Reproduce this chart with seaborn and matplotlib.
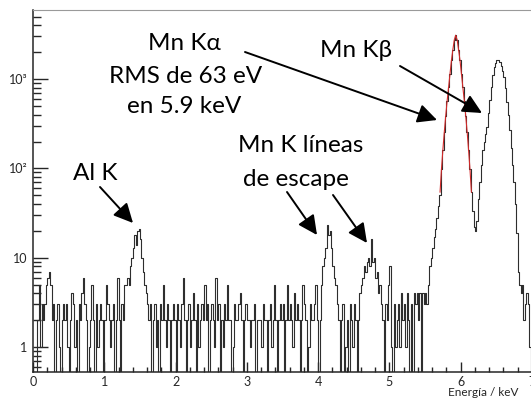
import numpy as np
import pandas as pd
import matplotlib
matplotlib.use('Agg')
import matplotlib.pyplot as plt
import seaborn as sns
from matplotlib.ticker import FixedLocator, MultipleLocator, LogLocator, NullFormatter

# spectrum: counts per 0.02 keV bin, segment by segment
bin_width = 0.02
counts_0_03 = [0, 0, 0, 2, 5, 1, 3, 2, 3, 5, 6, 7, 5, 2, 3]
counts_03_06 = [0, 2, 3, 1, 0, 2, 3, 2, 3, 1, 0, 2, 4, 3, 1]
counts_06_09 = [2, 0, 3, 2, 4, 6, 3, 2, 0, 1, 2, 5, 2, 0, 3]
counts_09_12 = [1, 2, 3, 2, 0, 2, 5, 3, 2, 1, 2, 3, 0, 2, 6]
counts_12_13 = [2, 0, 3, 2, 5]
counts_al_k = [5, 6, 5, 8, 10, 13, 18, 14, 20, 21, 16, 10, 7, 5, 4, 3, 2]
counts_164_2 = [3, 0, 2, 3, 1, 2, 0, 3, 2, 5, 2, 1, 3, 2, 0, 2, 3, 2]
counts_2_25 = [0, 3, 2, 1, 3, 6, 2, 0, 2, 3, 1, 2, 4, 2, 0, 3, 1, 2, 3, 2, 5, 2, 3, 0, 2]
counts_25_3 = [3, 2, 1, 6, 2, 3, 0, 2, 1, 3, 2, 5, 2, 2, 0, 1, 3, 2, 2, 3, 4, 2, 0, 2, 3]
counts_3_35 = [2, 2, 1, 2, 2, 3, 0, 2, 2, 2, 1, 3, 2, 2, 0, 2, 3, 1, 2, 5, 2, 0, 2, 3, 2]
counts_35_4 = [3, 0, 2, 5, 2, 3, 2, 1, 4, 2, 3, 2, 0, 2, 5, 3, 2, 0, 1, 3, 2, 2, 3, 5, 2]
counts_escape_ka = [0, 2, 5, 8, 10, 13, 23, 18, 20, 13, 8, 6, 5, 3, 2]
counts_43_46 = [0, 2, 3, 0, 1, 2, 0, 3, 2, 1, 3, 2, 0, 2, 4]
counts_escape_kb = [5, 6, 8, 7, 9, 10, 8, 16, 9, 10, 6, 7, 4, 5, 3]
counts_49_55 = [2, 0, 3, 2, 5, 8, 1, 0, 3, 1, 2, 3, 1, 4, 2,
                3, 1, 4, 2, 0, 3, 0, 4, 3, 4, 2, 4, 0, 4, 3]
counts_ka_tail = [4, 3, 5, 8, 10, 13, 17, 21, 28, 38]
counts_mn_ka = [50, 98, 162, 257, 390, 575, 810, 1150, 1620, 2140, 2750, 3100,
                2750, 2140, 1620, 1150, 810, 575, 390, 257, 162, 98, 54]
counts_valley = [33, 22, 20]
counts_mn_kb = [26, 45, 70, 110, 160, 200, 240, 290, 420, 590,
                820, 1100, 1350, 1530, 1620, 1630, 1560, 1420, 1230, 1050,
                800, 560, 400, 270, 170, 110, 70, 40, 19, 7]
counts_end = [5, 4, 5, 2, 3, 4, 3, 1, 0]

counts = (counts_0_03 + counts_03_06 + counts_06_09 + counts_09_12 + counts_12_13
          + counts_al_k + counts_164_2 + counts_2_25 + counts_25_3 + counts_3_35
          + counts_35_4 + counts_escape_ka + counts_43_46 + counts_escape_kb
          + counts_49_55 + counts_ka_tail + counts_mn_ka + counts_valley
          + counts_mn_kb + counts_end)
assert len(counts) == 350

# red fit over Mn K-alpha
fit_x = [5.71, 5.73, 5.75, 5.77, 5.79, 5.81, 5.83, 5.85, 5.87, 5.89, 5.91, 5.93,
         5.95, 5.97, 5.99, 6.01, 6.03, 6.05, 6.07, 6.09, 6.11, 6.13, 6.15]
fit_y = [54, 98, 162, 257, 390, 575, 810, 1150, 1620, 2140, 2750, 3100,
         2750, 2140, 1620, 1150, 810, 575, 390, 257, 162, 98, 54]

y_ticks = [1, 10, 100, 1000]
y_tick_labels = ['1', '10', '10²', '10³']

centers = (np.arange(len(counts)) + 0.5) * bin_width
df = pd.DataFrame({'energia': centers, 'cuentas': counts})

sns.set_style('ticks')
plt.rcParams['font.family'] = ['Lato', 'DejaVu Sans']

W, H = 531, 405
fig = plt.figure(figsize=(W / 100, H / 100), dpi=100)
ax = fig.add_axes([33 / W, 1 - 372 / H, 499 / W, 362 / H])

sns.histplot(data=df, x='energia', weights='cuentas', binwidth=bin_width,
             binrange=(0, len(counts) * bin_width),
             element='step', fill=False, color='#2e2e2e', linewidth=0.8, ax=ax)
sns.lineplot(x=fit_x, y=fit_y, color='#d42a2a', linewidth=0.8, ax=ax)

ax.set_yscale('log')
ax.set_xlim(0, 7)
ax.set_ylim(0.525, 5940)

ax.xaxis.set_major_locator(MultipleLocator(1))
ax.xaxis.set_minor_locator(MultipleLocator(0.2))
ax.yaxis.set_major_locator(FixedLocator(y_ticks))
ax.yaxis.set_ticklabels(y_tick_labels)
ax.yaxis.set_minor_locator(LogLocator(base=10, subs=range(2, 10)))
ax.yaxis.set_minor_formatter(NullFormatter())

ax.tick_params(axis='x', which='major', direction='in', length=7.5, width=1,
               labelsize=9, pad=3, top=False)
ax.tick_params(axis='x', which='minor', direction='in', length=3.8, width=1, top=False)
ax.tick_params(axis='y', which='major', direction='in', length=11, width=1,
               labelsize=9, pad=4, right=False)
ax.tick_params(axis='y', which='minor', direction='in', length=5.5, width=1, right=False)

ax.spines['right'].set_visible(False)
ax.spines['top'].set_color('#9a9a9a')
for s in ['left', 'bottom']:
    ax.spines[s].set_linewidth(1.1)

ax.set_ylabel('')
ax.set_xlabel('Energía / keV', fontsize=8.5)
ax.xaxis.set_label_coords((519 - 33) / 499, -0.042)
ax.xaxis.label.set_ha('right')
ax.xaxis.label.set_va('top')

# labels (pixel positions from the top-left corner)
def fpos(x, y):
    return x / W, 1 - y / H

labels = [('Mn Kα', 184, 50), ('RMS de 63 eV', 186, 83), ('en 5.9 keV', 184, 113),
          ('Mn Kβ', 356, 57), ('Al K', 95, 180),
          ('Mn K líneas', 301, 152), ('de escape', 296, 186)]
for txt, x, y in labels:
    fig.text(*fpos(x, y), txt, ha='center', va='baseline', fontsize=17.5, color='black')

arrows = [((245, 52), (437, 120)), ((400, 66), (482, 113)), ((100, 187), (133, 223)),
          ((287, 192), (317, 235)), ((333, 195), (367, 243))]
for (x0, y0), (x1, y1) in arrows:
    ax.annotate('', xy=(x1, H - y1), xycoords='figure pixels',
                xytext=(x0, H - y0), textcoords='figure pixels',
                arrowprops=dict(arrowstyle='-|>,head_length=0.65,head_width=0.32',
                                mutation_scale=18, lw=1.4, color='black',
                                shrinkA=0, shrinkB=0))

fig.savefig('out.png', dpi=100)
